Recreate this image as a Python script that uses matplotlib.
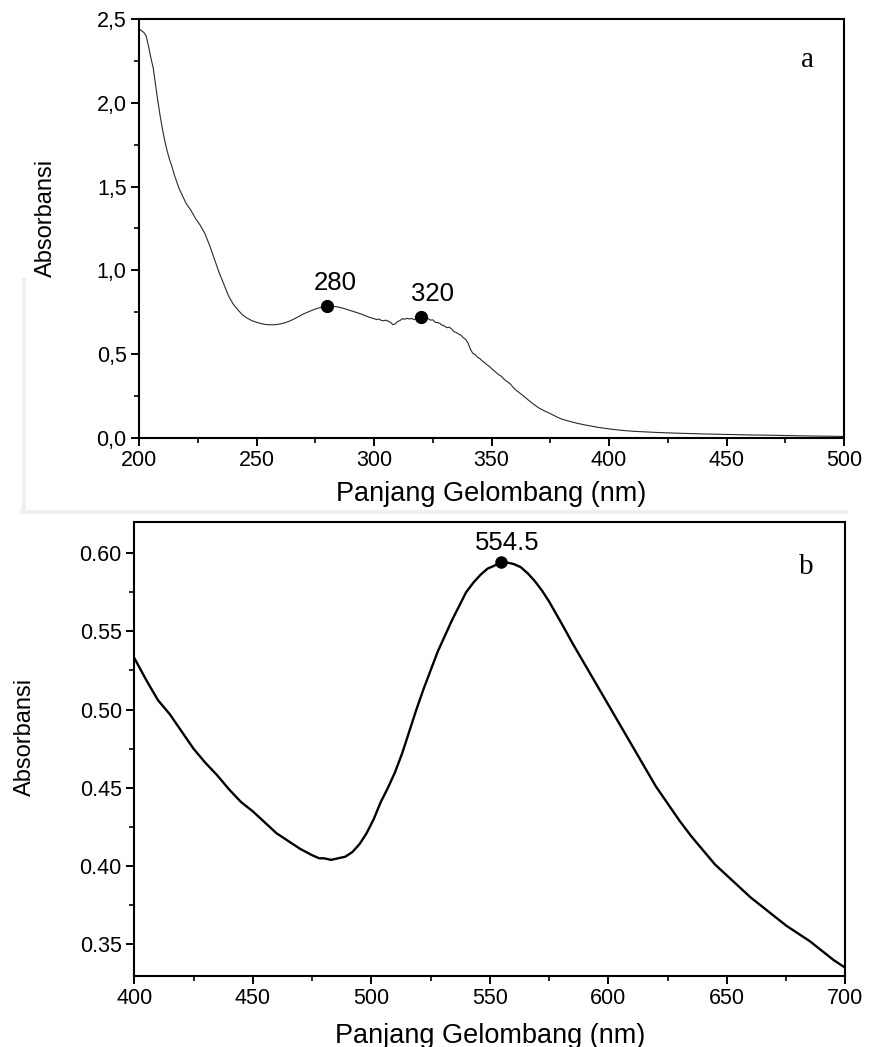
import numpy as np
import matplotlib
matplotlib.use("Agg")
import matplotlib.pyplot as plt
from matplotlib.ticker import MultipleLocator, FuncFormatter
from matplotlib.lines import Line2D

plt.rcParams['font.family'] = ['Liberation Sans', 'DejaVu Sans']

# (a) UV spectrum, 200-500 nm
wl_a = [200, 201, 202, 203, 204, 205, 206, 207, 208, 209, 210, 211, 212, 213, 214,
        215, 216, 217, 218, 219, 220, 222, 224, 226, 228, 230, 232, 234, 236, 238,
        240, 242, 244, 246, 248, 250, 252, 254, 256, 258, 260, 262, 264, 266, 268,
        270, 272, 274, 276, 278, 280, 282, 284, 286, 288, 290, 292, 294, 296, 298,
        300, 301, 302, 303, 304, 305, 306, 307, 308, 309, 310, 311, 312, 313, 314,
        315, 316, 317, 318, 319, 320, 321, 322, 323, 324, 325, 326, 327, 328, 329,
        330, 331, 332, 333, 334, 335, 336, 337, 338, 339, 340, 341, 342, 343, 344,
        345, 346, 347, 348, 349, 350, 351, 352, 353, 354, 355, 356, 357, 358, 359,
        360, 362, 364, 366, 368, 370, 372, 374, 376, 378, 380, 383, 386, 390, 395,
        400, 405, 410, 420, 430, 440, 450, 460, 470, 480, 490, 500]
abs_a = [2.44, 2.43, 2.42, 2.40, 2.34, 2.27, 2.21, 2.11, 2.01, 1.92, 1.84, 1.77, 1.71, 1.66, 1.62,
         1.57, 1.53, 1.49, 1.46, 1.43, 1.40, 1.36, 1.31, 1.27, 1.22, 1.15, 1.07, 0.99, 0.92, 0.85,
         0.80, 0.765, 0.735, 0.715, 0.70, 0.69, 0.682, 0.677, 0.675, 0.676, 0.68, 0.687, 0.697, 0.71, 0.725,
         0.74, 0.752, 0.764, 0.774, 0.781, 0.785, 0.786, 0.783, 0.777, 0.769, 0.76, 0.751, 0.742, 0.731, 0.72,
         0.712, 0.706, 0.71, 0.702, 0.699, 0.703, 0.697, 0.69, 0.676, 0.68, 0.695, 0.70, 0.712, 0.708, 0.714,
         0.71, 0.713, 0.706, 0.712, 0.718, 0.722, 0.716, 0.71, 0.712, 0.703, 0.705, 0.69, 0.688, 0.684, 0.672,
         0.668, 0.658, 0.661, 0.65, 0.635, 0.629, 0.62, 0.612, 0.598, 0.588, 0.566, 0.53, 0.505, 0.498, 0.482,
         0.474, 0.46, 0.45, 0.437, 0.428, 0.414, 0.402, 0.39, 0.378, 0.37, 0.355, 0.342, 0.333, 0.322, 0.305,
         0.29, 0.268, 0.246, 0.222, 0.20, 0.18, 0.165, 0.152, 0.138, 0.124, 0.112, 0.10, 0.089, 0.077, 0.064,
         0.054, 0.046, 0.04, 0.033, 0.028, 0.024, 0.021, 0.018, 0.016, 0.013, 0.011, 0.009]
peaks_a = [280, 320]
peak_abs_a = [0.786, 0.722]
peak_labels_a = ['280', '320']

# (b) visible spectrum, 400-700 nm
wl_b = [400, 405, 410, 415, 420, 425, 430, 435, 440, 445, 450, 455, 460, 465, 470,
        475, 478, 480, 483, 486, 489, 492, 495, 498, 501, 504, 507, 510, 513, 516,
        519, 522, 525, 528, 531, 534, 537, 540, 543, 546, 549, 552, 554.5, 557, 560,
        563, 566, 569, 572, 575, 578, 581, 585, 590, 595, 600, 605, 610, 615, 620,
        625, 630, 635, 640, 645, 650, 655, 660, 665, 670, 675, 680, 685, 690, 695, 700]
abs_b = [0.533, 0.519, 0.506, 0.497, 0.486, 0.475, 0.466, 0.458, 0.449, 0.441, 0.435, 0.428, 0.421, 0.416, 0.411,
         0.407, 0.405, 0.405, 0.404, 0.405, 0.406, 0.409, 0.414, 0.421, 0.430, 0.441, 0.450, 0.460, 0.472, 0.486,
         0.500, 0.513, 0.525, 0.537, 0.547, 0.557, 0.566, 0.575, 0.581, 0.586, 0.590, 0.592, 0.594, 0.594, 0.593,
         0.591, 0.587, 0.582, 0.576, 0.569, 0.561, 0.553, 0.542, 0.529, 0.516, 0.503, 0.490, 0.477, 0.464, 0.451,
         0.440, 0.429, 0.419, 0.410, 0.401, 0.394, 0.387, 0.380, 0.374, 0.368, 0.362, 0.357, 0.352, 0.346, 0.340, 0.335]
peak_b = 554.5
peak_abs_b = 0.594

fig = plt.figure(figsize=(8.69, 10.47), dpi=100)

# faint frame left over from the source figure
fig.add_artist(Line2D([22/869, 845/869], [1-512/1047, 1-512/1047], color='#f0f0f0', lw=3))
fig.add_artist(Line2D([24/869, 24/869], [1-280/1047, 1-512/1047], color='#f0f0f0', lw=3))

ax1 = fig.add_axes([0.16, 0.5817, 0.8113, 0.4002])
ax2 = fig.add_axes([0.1545, 0.0681, 0.8184, 0.4336])

for ax in (ax1, ax2):
    for s in ax.spines.values():
        s.set_linewidth(1.5)
    ax.tick_params(which='major', direction='out', length=6, width=1.4, labelsize=15.5, pad=3)
    ax.tick_params(which='minor', direction='out', length=3.5, width=1.2)
    ax.tick_params(top=False, right=False, which='both')

# panel a
ax1.plot(wl_a, abs_a, color='#2a2a2a', lw=0.8)
ax1.plot(peaks_a, peak_abs_a, 'o', color='black', ms=8.5)
ax1.annotate(peak_labels_a[0], xy=(peaks_a[0], peak_abs_a[0]), xytext=(6, 16.5),
             textcoords='offset points', ha='center', va='center', fontsize=18.5)
ax1.annotate(peak_labels_a[1], xy=(peaks_a[1], peak_abs_a[1]), xytext=(8, 16.5),
             textcoords='offset points', ha='center', va='center', fontsize=18.5)
ax1.set_xlim(200, 500)
ax1.set_ylim(0, 2.5)
ax1.xaxis.set_major_locator(MultipleLocator(50))
ax1.xaxis.set_minor_locator(MultipleLocator(25))
ax1.yaxis.set_major_locator(MultipleLocator(0.5))
ax1.yaxis.set_minor_locator(MultipleLocator(0.25))
ax1.yaxis.set_major_formatter(FuncFormatter(lambda v, p: f"{v:.1f}".replace('.', ',')))
ax1.set_xlabel('Panjang Gelombang (nm)', fontsize=19.5)
ax1.set_ylabel('Absorbansi', fontsize=17)
ax1.xaxis.set_label_coords(0.5, -0.103)
ax1.yaxis.set_label_coords(-0.117, 0.525)
ax1.text(0.9475, 0.902, 'a', transform=ax1.transAxes, ha='center', va='center',
         fontsize=21, family='Liberation Serif')

# panel b
ax2.plot(wl_b, abs_b, color='black', lw=1.7)
ax2.plot([peak_b], [peak_abs_b], 'o', color='black', ms=8)
ax2.annotate(f"{peak_b}", xy=(peak_b, peak_abs_b), xytext=(5, 14),
             textcoords='offset points', ha='center', va='center', fontsize=18.5)
ax2.set_xlim(400, 700)
ax2.set_ylim(0.33, 0.62)
ax2.xaxis.set_major_locator(MultipleLocator(50))
ax2.xaxis.set_minor_locator(MultipleLocator(25))
ax2.yaxis.set_major_locator(MultipleLocator(0.05))
ax2.yaxis.set_minor_locator(MultipleLocator(0.025))
ax2.yaxis.set_major_formatter(FuncFormatter(lambda v, p: f"{v:.2f}"))
ax2.set_xlabel('Panjang Gelombang (nm)', fontsize=19.5)
ax2.set_ylabel('Absorbansi', fontsize=17)
ax2.xaxis.set_label_coords(0.5, -0.104)
ax2.yaxis.set_label_coords(-0.138, 0.526)
ax2.text(0.9445, 0.90, 'b', transform=ax2.transAxes, ha='center', va='center',
         fontsize=21, family='Liberation Serif')

fig.savefig('out.png', dpi=100)
